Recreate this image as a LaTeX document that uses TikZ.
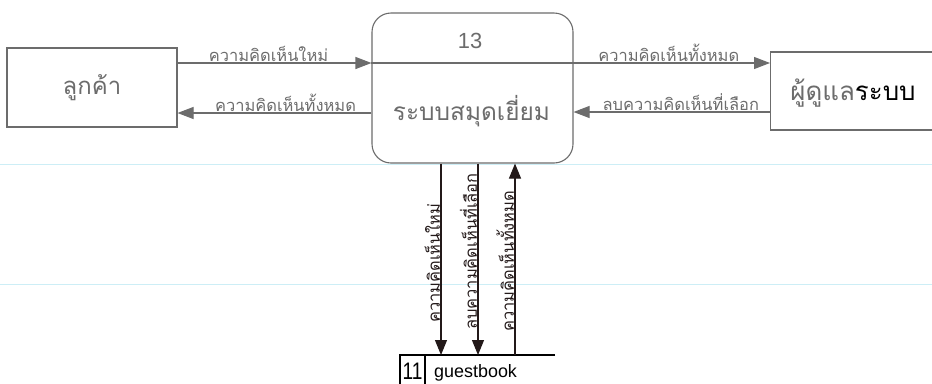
\documentclass[tikz,border=0pt]{standalone}
\usepackage{fontspec}
\setmainfont{Liberation Sans}
\newfontfamily\thaifont[Script=Thai]{Loma}
\usetikzlibrary{arrows.meta}
\definecolor{lg}{RGB}{108,108,108}
\definecolor{dk}{RGB}{35,25,25}
\definecolor{ruled}{RGB}{205,238,246}
\tikzset{
  flowg/.style={draw=lg, line width=1.1pt, -{Triangle[length=16bp,width=12bp]}, color=lg},
  flowd/.style={draw=dk, line width=1.1pt, -{Triangle[length=15bp,width=12bp]}, color=dk},
  lbl/.style={font=\thaifont\fontsize{16.5}{18}\selectfont, text=lg, inner sep=0.5pt},
  vlbl/.style={font=\thaifont\fontsize{16.5}{18}\selectfont, text=dk, inner sep=0.5pt, rotate=90, anchor=south},
  entity/.style={draw=lg, line width=1.1pt, text=lg},
}
\begin{document}
\begin{tikzpicture}[x=1bp,y=-1bp]
\useasboundingbox (0,0) rectangle (932,383);
\fill[white] (0,0) rectangle (932,383);
% faint ruled lines of the page
\draw[ruled, line width=0.8pt] (0,164) -- (932,164);
\draw[ruled, line width=0.8pt] (0,284) -- (932,284);

\node[entity, minimum width=170bp, minimum height=79bp, font=\thaifont\fontsize{24}{28}\selectfont] (cust) at (92,87.5) {ลูกค้า};
\node[entity, minimum width=170bp, minimum height=78bp, anchor=west] (admin) at (770,91) {};
\node[font=\thaifont\fontsize{26}{30}\selectfont, text=lg] (admintxt) at (853,93) {ผู้ดูแล\textcolor{black}{ระบบ}};

\node[draw=lg, line width=1.1pt, rounded corners=19bp, minimum width=201bp, minimum height=150bp] (proc) at (472.5,88) {};
\draw[lg, line width=1.1pt] ([yshift=25bp]proc.west) -- ([yshift=25bp]proc.east);
\node[font=\fontsize{22}{24}\selectfont, text=lg] (pid) at (470,41) {13};
\node[font=\thaifont\fontsize{24.5}{28}\selectfont, text=lg] (pname) at (471.5,111) {ระบบสมุดเยี่ยม};

% data store
\coordinate (sL) at (400,355);
\coordinate (sR) at (555,355);
\coordinate (sB) at (400,390);
\draw[black, line width=1.1pt] (sR) -- (sL) -- (sB);
\draw[black, line width=1.1pt] (425,355) -- (425,390);
\node[font=\fontsize{24}{26}\selectfont, inner sep=0pt, anchor=center] (sid) at (412.5,371) {\scalebox{0.8}[1]{11}};
\node[font=\fontsize{18}{20}\selectfont, inner sep=0pt, anchor=base west] (sname) at (434,377) {guestbook};

% horizontal flows
\draw[flowg] ([yshift=24.5bp]cust.east) -- ([yshift=24.5bp]cust.east -| proc.west)
  node[lbl, midway, above, xshift=-6bp] {ความคิดเห็นใหม่};
\draw[flowg] ([yshift=-25.5bp]cust.east -| proc.west) -- ([yshift=-25.5bp]cust.east)
  node[lbl, midway, above, xshift=11bp] {ความคิดเห็นทั้งหมด};
\draw[flowg] ([yshift=28bp]admin.west -| proc.east) -- ([yshift=28bp]admin.west)
  node[lbl, midway, above, xshift=-3bp] {ความคิดเห็นทั้งหมด};
\draw[flowg] ([yshift=-21bp]admin.west) -- ([yshift=-21bp]admin.west -| proc.east)
  node[lbl, midway, above, xshift=9bp] {ลบความคิดเห็นที่เลือก};

% vertical flows
\draw[flowd] ([xshift=-31.5bp]proc.south) -- ([xshift=-31.5bp]proc.south |- sL)
  node[vlbl, pos=0.52] {ความคิดเห็นใหม่};
\draw[flowd] ([xshift=5.5bp]proc.south) -- ([xshift=5.5bp]proc.south |- sL)
  node[vlbl, pos=0.46] {ลบความคิดเห็นที่เลือก};
\draw[flowd] ([xshift=42.5bp]proc.south |- sL) -- ([xshift=42.5bp]proc.south)
  node[vlbl, pos=0.49] {ความคิดเห็นทั้งหมด};
\end{tikzpicture}
\end{document}
